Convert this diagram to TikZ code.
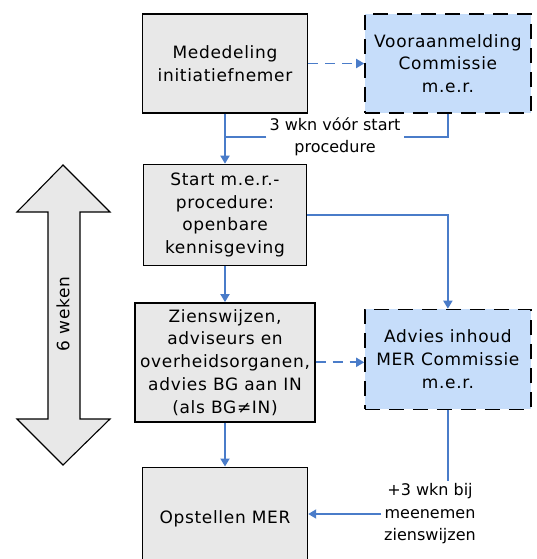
\documentclass[tikz,border=0pt]{standalone}
\usepackage{fontspec}
\setmainfont{DejaVu Sans}
\usetikzlibrary{arrows.meta,positioning}

\definecolor{boxgray}{HTML}{E8E8E8}
\definecolor{boxblue}{HTML}{C6DDFA}
\definecolor{linkblue}{HTML}{4A7CC9}

\begin{document}
\begin{tikzpicture}[x=1pt,y=-1pt,>={Triangle[length=8pt,width=9pt]},
  font=\fontsize{17}{22.8}\selectfont\addfontfeature{LetterSpace=4},node distance=50pt]
  \tikzstyle{stage}=[draw=black,fill=boxgray,line width=1.4pt,align=center,inner sep=2pt]
  \tikzstyle{commissie}=[stage,fill=boxblue,dash pattern=on 15pt off 9pt]
  \tikzstyle{link}=[draw=linkblue,line width=1.8pt]
  \tikzstyle{note}=[fill=white,align=center,inner sep=3pt,font=\fontsize{16}{22.5}\selectfont]

  \useasboundingbox (0,0) rectangle (536,559);

  \node[stage,minimum width=165pt,minimum height=99pt] (mededeling) at (225,63.5) {Mededeling\\initiatiefnemer};
  \node[commissie,minimum width=166pt,minimum height=99pt] (vooraan) [right=56pt of mededeling] {Vooraanmelding\\Commissie\\m.e.r.};
  \node[stage,minimum width=163pt,minimum height=101pt] (start) [below=of mededeling] {Start m.e.r.-\\procedure:\\openbare\\kennisgeving};
  \node[stage,minimum width=180pt,minimum height=119pt] (zienswijzen) [below=36pt of start] {Zienswijzen,\\adviseurs en\\overheidsorganen,\\advies BG aan IN\\(als BG≠IN)};
  \node[commissie,minimum width=166pt,minimum height=100pt] (advies) [below=195pt of vooraan] {Advies inhoud\\MER Commissie\\m.e.r.};
  \node[stage,minimum width=165pt,minimum height=104pt] (opstellen) [below=44pt of zienswijzen] {Opstellen MER};

  \node[note] (wkn) at (335,137) {3 wkn vóór start\\procedure};
  \node[note] (meenemen) at (430,514) {+3 wkn bij\\meenemen\\zienswijzen};

  % six weeks
  \draw[fill=boxgray,line width=1.1pt] (63,165) -- (110,212) -- (80,212) -- (80,419) -- (110,419)
    -- (63,465) -- (17,419) -- (48,419) -- (48,212) -- (17,212) -- cycle;
  \node[rotate=90] (weken) at (63,314) {6 weken};

  \draw[link,->,dash pattern=on 10pt off 7pt] (mededeling) -- (vooraan);
  \draw[link,->] (mededeling) -- (start);
  \draw[link] (vooraan.south) |- (wkn.east);
  \draw[link] (wkn.west) -- (wkn.west -| mededeling.south);
  \draw[link,->] (start.east) -| (advies.north);
  \draw[link,->] (start) -- (zienswijzen);
  \draw[link,->,dash pattern=on 10pt off 7pt] (zienswijzen) -- (zienswijzen -| advies.west);
  \draw[link,->] (zienswijzen) -- (opstellen);
  \draw[link] (advies.south) -- (advies.south |- meenemen.north);
  \draw[link,->] (meenemen.west) -- (meenemen.west -| opstellen.east);
\end{tikzpicture}
\end{document}
